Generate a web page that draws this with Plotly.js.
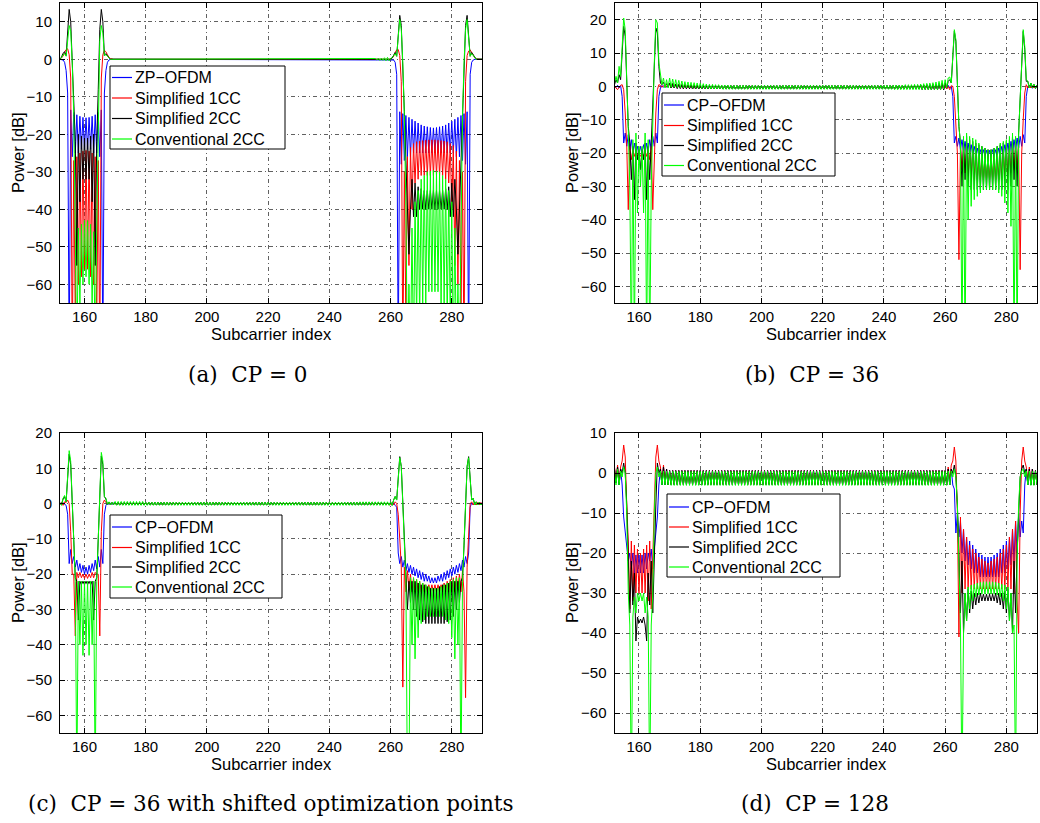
<!DOCTYPE html>
<html>
<head>
<meta charset="utf-8">
<script src="https://cdn.plot.ly/plotly-3.0.1.min.js"></script>
<style>
  html, body { margin: 0; padding: 0; background: #fff; }
  #chart { width: 1040px; height: 823px; }
</style>
</head>
<body>
<div id="chart"></div>
<script>
// Subcarrier grid: 152 ... 290 in half-subcarrier steps (277 samples)
const subcarrier = [];
for (let k = 0; k <= 276; k++) subcarrier.push(152 + k * 0.5);

// ---- flat band between the two notches (170 ... 259.5, 180 samples) ----
const aMid = [
  0,0,0,0,0,0,0,0,0,0,0,0,0,0,0,0,0,0,0,0,
  0,0,0,0,0,0,0,0,0,0,0,0,0,0,0,0,0,0,0,0,
  0,0,0,0,0,0,0,0,0,0,0,0,0,0,0,0,0,0,0,0,
  0,0,0,0,0,0,0,0,0,0,0,0,0,0,0,0,0,0,0,0,
  0,0,0,0,0,0,0,0,0,0,0,0,0,0,0,0,0,0,0,0,
  0,0,0,0,0,0,0,0,0,0,0,0,0,0,0,0,0,0,0,0,
  0,0,0,0,0,0,0,0,0,0,0,0,0,0,0,0,0,0,0,0,
  0,0,0,0,0,0,0,0,0,0,0,0,0,0,0,0,0,0,0,0,
  0,0,0,0,0,0,0,0,0,0,0,0,0,0,0,0,0,0,0,0
];
const aMidGreen = [
  0,0,0,0,0,0,0,0,0,0,0,0,0,0,0,0,0,0,0,0,
  0,0,0,0,0,0,0,0,0,0,0,0,0,0,0,0,0,0,0,0,
  0,0,0,0,0,0,0,0,0,0,0,0,0,0,0,0,0,0,0,0,
  0,0,0,0,0,0,0,0,0,0,0,0,0,0,0,0,0,0,0,0,
  0,0,0,0,0,0,0,0,0,0,0,0,0,0,0,0,0,0,0,0,
  0,0,0,0,0,0,0,0,0,0,0,0,0,0,0,0,0,0,0,0,
  0,0,0,0,0,0,0,0,0,0,0,0,0,0,0,0,0,0,0,0,
  0,0,0,0,0,0,0,0,0,0,0,0,0,0,0,0,0,0,0,0,
  0,0,0,0,0,0,0,0,0,0,0.2,-0.2,0.3,-0.3,0.3,-0.3,0.4,-0.4,0.5,-0.4
];
const bMid = [
  1,-0.5,0.8,-0.5,0.7,-0.6,0.6,-0.6,0.5,-0.7,0.5,-0.7,0.4,-0.7,0.4,-0.8,0.3,-0.8,0.3,-0.8,
  0.2,-0.8,0.2,-0.8,0.2,-0.8,0.2,-0.8,0.2,-0.8,0.2,-0.8,0.2,-0.8,0.2,-0.8,0.2,-0.8,0.2,-0.8,
  0.2,-0.8,0.2,-0.8,0.2,-0.8,0.2,-0.8,0.2,-0.8,0.2,-0.8,0.2,-0.8,0.2,-0.8,0.2,-0.8,0.2,-0.8,
  0.2,-0.8,0.2,-0.8,0.2,-0.8,0.2,-0.8,0.2,-0.8,0.2,-0.8,0.2,-0.8,0.2,-0.8,0.2,-0.8,0.2,-0.8,
  0.2,-0.8,0.2,-0.8,0.2,-0.8,0.2,-0.8,0.2,-0.8,0.2,-0.8,0.2,-0.8,0.2,-0.8,0.2,-0.8,0.2,-0.8,
  0.2,-0.8,0.2,-0.8,0.2,-0.8,0.2,-0.8,0.2,-0.8,0.2,-0.8,0.2,-0.8,0.2,-0.8,0.2,-0.8,0.2,-0.8,
  0.2,-0.8,0.2,-0.8,0.2,-0.8,0.2,-0.8,0.2,-0.8,0.2,-0.8,0.2,-0.8,0.2,-0.8,0.2,-0.8,0.2,-0.8,
  0.2,-0.8,0.2,-0.8,0.2,-0.8,0.2,-0.8,0.2,-0.8,0.2,-0.8,0.2,-0.8,0.2,-0.8,0.2,-0.8,0.2,-0.8,
  0.3,-0.8,0.3,-0.8,0.4,-0.9,0.4,-0.9,0.5,-0.9,0.5,-1,0.6,-1,0.7,-1,0.8,-1,1,-1
];
const bMidGreen = [
  2.5,-0.3,2.2,-0.3,2,-0.4,1.8,-0.4,1.6,-0.5,1.4,-0.5,1.3,-0.5,1.2,-0.6,1.1,-0.6,1,-0.6,
  0.9,-0.7,0.8,-0.7,0.7,-0.7,0.6,-0.8,0.6,-0.8,0.5,-0.8,0.5,-0.8,0.4,-0.9,0.4,-0.9,0.4,-0.9,
  0.3,-0.9,0.3,-0.9,0.3,-0.9,0.3,-0.9,0.3,-0.9,0.3,-0.9,0.3,-0.9,0.3,-0.9,0.3,-0.9,0.3,-0.9,
  0.3,-0.9,0.3,-0.9,0.3,-0.9,0.3,-0.9,0.3,-0.9,0.3,-0.9,0.3,-0.9,0.3,-0.9,0.3,-0.9,0.3,-0.9,
  0.3,-0.9,0.3,-0.9,0.3,-0.9,0.3,-0.9,0.3,-0.9,0.3,-0.9,0.3,-0.9,0.3,-0.9,0.3,-0.9,0.3,-0.9,
  0.3,-0.9,0.3,-0.9,0.3,-0.9,0.3,-0.9,0.3,-0.9,0.3,-0.9,0.3,-0.9,0.3,-0.9,0.3,-0.9,0.3,-0.9,
  0.3,-0.9,0.3,-0.9,0.3,-0.9,0.3,-0.9,0.3,-0.9,0.3,-0.9,0.3,-0.9,0.3,-0.9,0.3,-0.9,0.3,-0.9,
  0.3,-0.9,0.3,-0.9,0.3,-0.9,0.3,-1,0.4,-1,0.4,-1,0.4,-1,0.5,-1,0.5,-1,0.5,-1,
  0.6,-1,0.6,-1,0.7,-1,0.8,-1,0.9,-1,1,-1,1.1,-1,1.3,-1,1.5,-1,1.8,-0.8
];
const cMid = [
  0.3,-0.4,0.3,-0.4,0.3,-0.4,0.3,-0.4,0.3,-0.4,0.3,-0.4,0.3,-0.4,0.3,-0.4,0.3,-0.4,0.3,-0.4,
  0.3,-0.4,0.3,-0.4,0.3,-0.4,0.3,-0.4,0.3,-0.4,0.3,-0.4,0.3,-0.4,0.3,-0.4,0.3,-0.4,0.3,-0.4,
  0.3,-0.4,0.3,-0.4,0.3,-0.4,0.3,-0.4,0.3,-0.4,0.3,-0.4,0.3,-0.4,0.3,-0.4,0.3,-0.4,0.3,-0.4,
  0.3,-0.4,0.3,-0.4,0.3,-0.4,0.3,-0.4,0.3,-0.4,0.3,-0.4,0.3,-0.4,0.3,-0.4,0.3,-0.4,0.3,-0.4,
  0.3,-0.4,0.3,-0.4,0.3,-0.4,0.3,-0.4,0.3,-0.4,0.3,-0.4,0.3,-0.4,0.3,-0.4,0.3,-0.4,0.3,-0.4,
  0.3,-0.4,0.3,-0.4,0.3,-0.4,0.3,-0.4,0.3,-0.4,0.3,-0.4,0.3,-0.4,0.3,-0.4,0.3,-0.4,0.3,-0.4,
  0.3,-0.4,0.3,-0.4,0.3,-0.4,0.3,-0.4,0.3,-0.4,0.3,-0.4,0.3,-0.4,0.3,-0.4,0.3,-0.4,0.3,-0.4,
  0.3,-0.4,0.3,-0.4,0.3,-0.4,0.3,-0.4,0.3,-0.4,0.3,-0.4,0.3,-0.4,0.3,-0.4,0.3,-0.4,0.3,-0.4,
  0.3,-0.4,0.3,-0.4,0.3,-0.4,0.3,-0.4,0.3,-0.4,0.3,-0.4,0.3,-0.4,0.3,-0.4,0.3,-0.4,0.3,-0.4
];
const cMidGreen = [
  0.6,-0.5,0.6,-0.5,0.6,-0.5,0.6,-0.5,0.6,-0.5,0.6,-0.5,0.6,-0.5,0.6,-0.5,0.6,-0.5,0.6,-0.5,
  0.4,-0.5,0.4,-0.5,0.4,-0.5,0.4,-0.5,0.4,-0.5,0.4,-0.5,0.4,-0.5,0.4,-0.5,0.4,-0.5,0.4,-0.5,
  0.4,-0.5,0.4,-0.5,0.4,-0.5,0.4,-0.5,0.4,-0.5,0.4,-0.5,0.4,-0.5,0.4,-0.5,0.4,-0.5,0.4,-0.5,
  0.4,-0.5,0.4,-0.5,0.4,-0.5,0.4,-0.5,0.4,-0.5,0.4,-0.5,0.4,-0.5,0.4,-0.5,0.4,-0.5,0.4,-0.5,
  0.4,-0.5,0.4,-0.5,0.4,-0.5,0.4,-0.5,0.4,-0.5,0.4,-0.5,0.4,-0.5,0.4,-0.5,0.4,-0.5,0.4,-0.5,
  0.4,-0.5,0.4,-0.5,0.4,-0.5,0.4,-0.5,0.4,-0.5,0.4,-0.5,0.4,-0.5,0.4,-0.5,0.4,-0.5,0.4,-0.5,
  0.4,-0.5,0.4,-0.5,0.4,-0.5,0.4,-0.5,0.4,-0.5,0.4,-0.5,0.4,-0.5,0.4,-0.5,0.4,-0.5,0.4,-0.5,
  0.4,-0.5,0.4,-0.5,0.4,-0.5,0.4,-0.5,0.4,-0.5,0.4,-0.5,0.4,-0.5,0.4,-0.5,0.4,-0.5,0.4,-0.5,
  0.5,-0.5,0.5,-0.5,0.5,-0.5,0.5,-0.5,0.5,-0.5,0.5,-0.5,0.5,-0.5,0.5,-0.5,0.5,-0.5,0.5,-0.5
];
const dMid = [
  0.6,-2.9,0.6,-2.9,0.6,-2.9,0.6,-2.9,0.6,-2.9,0.6,-2.9,0.6,-2.9,0.6,-2.9,0.6,-2.9,0.6,-2.9,
  0.6,-2.9,0.6,-2.9,0.6,-2.9,0.6,-2.9,0.6,-2.9,0.6,-2.9,0.6,-2.9,0.6,-2.9,0.6,-2.9,0.6,-2.9,
  0.6,-2.9,0.6,-2.9,0.6,-2.9,0.6,-2.9,0.6,-2.9,0.6,-2.9,0.6,-2.9,0.6,-2.9,0.6,-2.9,0.6,-2.9,
  0.6,-2.9,0.6,-2.9,0.6,-2.9,0.6,-2.9,0.6,-2.9,0.6,-2.9,0.6,-2.9,0.6,-2.9,0.6,-2.9,0.6,-2.9,
  0.6,-2.9,0.6,-2.9,0.6,-2.9,0.6,-2.9,0.6,-2.9,0.6,-2.9,0.6,-2.9,0.6,-2.9,0.6,-2.9,0.6,-2.9,
  0.6,-2.9,0.6,-2.9,0.6,-2.9,0.6,-2.9,0.6,-2.9,0.6,-2.9,0.6,-2.9,0.6,-2.9,0.6,-2.9,0.6,-2.9,
  0.6,-2.9,0.6,-2.9,0.6,-2.9,0.6,-2.9,0.6,-2.9,0.6,-2.9,0.6,-2.9,0.6,-2.9,0.6,-2.9,0.6,-2.9,
  0.6,-2.9,0.6,-2.9,0.6,-2.9,0.6,-2.9,0.6,-2.9,0.6,-2.9,0.6,-2.9,0.6,-2.9,0.6,-2.9,0.6,-2.9,
  0.6,-2.9,0.6,-2.9,0.6,-2.9,0.6,-2.9,0.6,-2.9,0.6,-2.9,0.6,-2.9,0.6,-2.9,0.6,-2.9,0.6,-2.9
];
const dMidGreen = [
  0.4,-3.1,0.4,-3.1,0.4,-3.1,0.4,-3.1,0.4,-3.1,0.4,-3.1,0.4,-3.1,0.4,-3.1,0.4,-3.1,0.4,-3.1,
  0.4,-3.1,0.4,-3.1,0.4,-3.1,0.4,-3.1,0.4,-3.1,0.4,-3.1,0.4,-3.1,0.4,-3.1,0.4,-3.1,0.4,-3.1,
  0.4,-3.1,0.4,-3.1,0.4,-3.1,0.4,-3.1,0.4,-3.1,0.4,-3.1,0.4,-3.1,0.4,-3.1,0.4,-3.1,0.4,-3.1,
  0.4,-3.1,0.4,-3.1,0.4,-3.1,0.4,-3.1,0.4,-3.1,0.4,-3.1,0.4,-3.1,0.4,-3.1,0.4,-3.1,0.4,-3.1,
  0.4,-3.1,0.4,-3.1,0.4,-3.1,0.4,-3.1,0.4,-3.1,0.4,-3.1,0.4,-3.1,0.4,-3.1,0.4,-3.1,0.4,-3.1,
  0.4,-3.1,0.4,-3.1,0.4,-3.1,0.4,-3.1,0.4,-3.1,0.4,-3.1,0.4,-3.1,0.4,-3.1,0.4,-3.1,0.4,-3.1,
  0.4,-3.1,0.4,-3.1,0.4,-3.1,0.4,-3.1,0.4,-3.1,0.4,-3.1,0.4,-3.1,0.4,-3.1,0.4,-3.1,0.4,-3.1,
  0.4,-3.1,0.4,-3.1,0.4,-3.1,0.4,-3.1,0.4,-3.1,0.4,-3.1,0.4,-3.1,0.4,-3.1,0.4,-3.1,0.4,-3.1,
  0.4,-3.1,0.4,-3.1,0.4,-3.1,0.4,-3.1,0.4,-3.1,0.4,-3.1,0.4,-3.1,0.4,-3.1,0.4,-3.1,0.4,-3.1
];

// ---- (a) CP = 0, power in dB ----
const aBlue = [
  0,0,-0.2,-0.8,-3,-9,-80,-13.5,-26,-14.2,
  -25,-14.8,-25,-15.2,-24,-15.5,-24,-15.6,-24,-15.5,
  -24,-15.2,-25,-14.8,-25,-14.2,-26,-13.5,-80,-9,
  -3,-0.8,-0.2,0,0,0,
  ...aMid,
  0,0,-0.2,-0.8,-4,-80,-14,-28,-14.5,-27,
  -15,-26,-15.5,-26,-16,-25,-16.5,-25,-17,-25,
  -17.5,-25,-17.8,-25,-18,-25,-18.2,-25,-18.3,-25,
  -18.2,-25,-18,-25,-17.8,-25,-17.5,-25,-17,-25,
  -16.5,-25,-16,-26,-15.5,-26,-15,-27,-14.5,-28,
  -14,-80,-4,-0.8,-0.2,0,0,0,0,0,
  0
];
const aRed = [
  0,0.3,0.8,1.8,2.6,2.8,1.2,-5,-80,-27,
  -70,-26,-60,-25,-58,-24.5,-56,-24.3,-56,-24.5,
  -58,-25,-60,-26,-70,-27,-80,-5,1.2,2.4,
  2,1.2,0.5,0.2,0,0,
  ...aMid,
  0,0.3,0.8,1.8,2.5,2.6,1,-6,-80,-30,
  -70,-26,-55,-23.5,-40,-22.5,-33,-22,-32,-21.8,
  -31,-21.7,-31,-21.6,-31,-21.5,-31,-21.5,-31,-21.5,
  -31,-21.6,-31,-21.7,-31,-21.8,-32,-22,-33,-22.5,
  -40,-23,-55,-24.5,-60,-27,-70,-30,-80,-6,
  1,2.2,2.5,1.8,1,0.4,0.1,0,0,0,
  0
];
const aBlack = [
  0,0.6,1.6,2,1,8,13.3,10,-1,-12,
  -22,-55,-20,-38,-20.5,-32,-21,-32,-21,-32,
  -20.5,-38,-20,-55,-22,-8,8,13.3,10,1,
  1.5,1,0.3,0,0,0,
  ...aMid,
  0,0.3,1.2,1.8,0.8,7,11.7,9,-1,-14,
  -27,-40,-52,-40,-32,-42,-33,-42,-34,-40,
  -34.5,-40,-35,-40,-35,-40,-35,-40,-35,-40,
  -35,-40,-35,-40,-35,-40,-34.5,-40,-34,-42,
  -33,-42,-32,-40,-52,-40,-27,-14,-1,9,
  11.7,7,0.8,1.8,1.2,0.3,0,0,0,0,
  0
];
const aGreen = [
  0,0.4,1.2,1.5,0.8,5.5,9,7.5,-1,-15,
  -45,-80,-45,-65,-44,-60,-43,-58,-43,-60,
  -44,-65,-46,-80,-45,-12,5,9,7,1,
  1.2,0.8,0.3,0,0,0,
  ...aMidGreen,
  0,0.4,1,1.5,0.8,6,10.6,8,-1,-15,
  -40,-80,-60,-80,-45,-80,-38,-70,-35,-70,
  -32,-65,-31,-65,-30,-62,-29.8,-62,-29.6,-62,
  -29.8,-62,-30,-65,-31,-65,-32,-70,-35,-70,
  -38,-80,-45,-80,-60,-80,-40,-15,-1,8,
  10.6,6,0.8,1.5,1,0.4,0,0,0,0,
  0
];

// ---- (b) CP = 36 ----
const bBlue = [
  0,-0.4,0.3,-0.5,0.2,-3,-17,-14,-18,-14.5,
  -19,-16,-20,-17,-20,-18,-20.5,-18,-20,-17.5,
  -20,-17,-19.5,-16,-19,-15,-18,-14,-17,-3,
  -0.5,0.3,-0.3,0.2,-0.2,0.2,
  ...bMid,
  0.2,-0.8,0.3,-0.5,0,-3,-17,-15,-18,-15.5,
  -19,-16,-19.5,-16.5,-20,-17,-20,-17.5,-20.5,-18,
  -20.5,-18.5,-21,-19,-21,-19,-21,-19.2,-21,-19.2,
  -21,-19,-21,-19,-21,-18.5,-20.5,-18,-20.5,-17.5,
  -20,-17,-20,-16.5,-19.5,-16,-19,-15.5,-18.5,-15,
  -18,-14.5,-17,-3,0,-0.5,0.3,-0.6,0.2,-0.6,
  0.1
];
const bRed = [
  0,-0.5,-1,-0.3,0.3,0.5,-1,-8,-18,-37,
  -18,-22,-19,-21,-19.5,-21,-20,-21,-20,-21,
  -19.5,-21,-19,-22,-18,-37,-18,-8,-1,0.5,
  0.3,-0.3,0.2,-0.2,0.1,-0.1,
  ...bMid,
  0.3,-0.8,0,-1,0.2,0,-3,-12,-20,-52,
  -18,-25,-19,-26,-19.5,-27,-20,-27,-20,-28,
  -20.5,-28,-21,-28,-21,-28,-21,-28,-21,-28,
  -21,-28,-21,-28,-21,-28,-20.5,-28,-20,-27,
  -20,-27,-19.5,-26,-19,-25,-18.5,-25,-18,-55,
  -20,-10,-2,0.5,-0.5,0.3,-0.5,0.2,-0.5,0.1,
  -0.4
];
const bBlack = [
  0.5,2,1,3.5,2,10,18,15,3,-12,
  -17,-28,-18,-34,-17,-22,-19,-25,-19,-22,
  -17,-34,-18,-28,-17,-5,6,17.5,16,6,
  1,0.5,1.2,0,0.8,-0.2,
  ...bMid,
  1,-0.5,1.5,2,1,8,16.5,13.5,2,-12,
  -17,-30,-16,-28,-15,-30,-16,-31,-16.5,-31,
  -17,-31,-17.5,-31,-18,-31,-18.5,-31,-19,-31,
  -19,-31,-18.5,-31,-18,-31,-17.5,-31,-17,-31,
  -16.5,-31,-16,-30,-15,-28,-16,-30,-14,-3,
  9,16.5,11,1.5,1.5,-0.5,1,-0.5,0.6,-0.6,
  0.4
];
const bGreen = [
  1,3,1,6,3,13,20.5,17,4,-13,
  -30,-80,-16,-80,-14,-38,-18,-30,-18,-38,
  -14,-80,-16,-80,-30,-10,7,20,19,7,
  3,0.5,2.5,-0.5,2,-0.5,
  ...bMidGreen,
  2,-0.5,2.5,2.8,1,9,17,14,2,-12,
  -17,-80,-15,-80,-14,-40,-15,-36,-15.5,-34,
  -16,-33,-17,-32,-18,-31,-18.5,-31,-19,-31,
  -19,-31,-18.5,-31,-18,-32,-17,-33,-16.5,-35,
  -16,-38,-15,-42,-14,-80,-15,-80,-14,-3,
  10,17,12,2,1.5,-0.5,1,-0.5,0.6,-0.6,
  0.4
];

// ---- (c) CP = 36, shifted optimization points ----
const cBlue = [
  0,-0.3,0.2,-0.3,-0.5,-3,-17,-13,-17,-15,
  -18,-16,-19,-17,-19.5,-17.5,-20,-18,-20,-17.5,
  -19.5,-17,-19,-16,-18.5,-15,-18,-13,-17,-3,
  -0.5,0.2,-0.3,0.2,-0.3,0.2,
  ...cMid,
  0.3,-0.4,0.2,-0.5,-1,-14,-17,-15,-18,-16,
  -19,-17,-19.5,-17.5,-20,-18,-20.5,-18.5,-21,-19,
  -21.5,-19.5,-22,-20,-22,-20.5,-22.5,-21,-22.5,-21,
  -22.5,-20.5,-22,-20,-22,-19.5,-21.5,-19,-21,-18.5,
  -20.5,-18,-20,-17.5,-19.5,-17,-19,-16,-18,-15,
  -17,-14,-1,0.2,-0.4,0.3,-0.4,0.2,-0.3,0.2,
  -0.3
];
const cRed = [
  -0.3,0.3,-0.5,0.5,0.3,1,0,-8,-20,-20,
  -37.5,-19.5,-21,-19.5,-21,-20,-21.2,-20,-21.2,-20,
  -21,-19.5,-21,-19.5,-20,-20,-37.5,-8,0,1,
  0.3,-0.3,0.4,-0.4,0.3,-0.3,
  ...cMid,
  -0.3,0.3,-0.4,0.5,0,-3,-10,-18,-52,-18,
  -25,-19,-24,-20,-25,-21,-25,-21.5,-25,-22,
  -25,-22.5,-25,-23,-25,-23,-25,-23,-25,-23,
  -25,-23,-25,-23,-25,-22.5,-25,-22,-25,-21.5,
  -25,-21,-25,-20.5,-24,-20,-25,-19,-25,-55,
  -18,-8,0,0.5,-0.4,0.4,-0.4,0.3,-0.3,0.3,
  -0.3
];
const cBlack = [
  0.3,-0.3,1.3,2,0.5,7.5,14,11,1,-13,
  -21,-22,-33,-22,-23,-22,-23,-22,-23,-22,
  -23,-22,-33,-22,-21,-10,5.5,13.5,11,2,
  1.3,-0.3,0.4,-0.3,0.3,-0.3,
  ...cMid,
  0.3,-0.5,1,2,1,7,13.3,10.5,1,-12,
  -21,-30,-22,-28,-22,-30,-22,-32,-22.5,-33,
  -23,-33.5,-23,-34,-23.5,-34,-24,-34,-24,-34,
  -24,-34,-23.5,-34,-23,-34,-23,-33.5,-22.5,-33,
  -22,-32,-22,-30,-22,-28,-22,-21,-12,1,
  10.5,13.3,7,1,1.5,-0.4,0.5,-0.4,0.4,-0.4,
  0.3
];
const cGreen = [
  0.2,-0.5,1.5,2.3,0.5,8,15,12,1,-13,
  -22,-80,-22,-40,-22,-43,-22,-40,-22,-43,
  -22,-40,-22,-80,-22,-10,6,14.5,12,2,
  1.5,-0.3,0.5,-0.4,0.4,-0.4,
  ...cMidGreen,
  0.5,-0.5,1,2,1,7,13,10.5,1,-12,
  -22,-80,-80,-21,-40,-21,-44,-21.5,-38,-22,
  -34,-22.5,-33,-23,-32,-23.5,-32,-24,-32,-24,
  -32,-24,-32,-23.5,-32,-23,-33,-22.5,-34,-22,
  -38,-21.5,-44,-21,-40,-21,-80,-22,-12,1,
  10.5,13,7,1,1.5,-0.4,0.5,-0.4,0.4,-0.4,
  0.3
];

// ---- (d) CP = 128 ----
const dBlue = [
  1,-2.5,1.5,-3,1,-3,-11,-15,-19,-22,
  -20,-24,-20,-25,-20.5,-25,-20.5,-25,-20.5,-25,
  -20,-24,-20,-22,-19,-24,-19,-15,-11,-3,
  1,-3,1.5,-3,1,-3,
  ...dMid,
  0.6,-3,1,-3,1,-3,-4,-15,-10,-16,
  -12,-20,-14,-22,-16,-23,-17,-24,-18,-25,
  -19,-25,-20,-26,-20.5,-26,-21,-26,-21,-26,
  -21,-26,-20.5,-26,-20,-26,-19,-25,-18,-25,
  -17,-24,-16,-23,-14,-22,-12,-20,-10,-16,
  -12,-15,-3,1,-3,1,-3,1,-3,0.6,
  -3
];
const dRed = [
  1.5,-2,2,-2.5,1.5,3,7,4,-8,-17,
  -34,-17,-32,-18,-30,-19,-30,-20,-30,-19,
  -30,-18,-32,-17,-34,-17,-8,4,7,3,
  1.5,-2.5,2,-2.5,1,-3,
  ...dMid,
  0.6,-3,1.5,-2,2,3,6.5,3,-10,-41,
  -11,-30,-14,-29,-16,-29,-18,-29,-19,-29,
  -20,-29,-21,-29,-21.5,-29,-22,-29,-22.5,-29,
  -22,-29,-21.5,-29,-21,-29,-20,-29,-19,-29,
  -18,-29,-16,-29,-14,-30,-12,-32,-40,-10,
  3,6.5,3,1.5,-2,1.5,-2.5,1,-3,0.6,
  -3
];
const dBlack = [
  1,-2.5,1.5,-3,1,0,2.5,0,-8,-20,
  -35,-22,-33,-25,-42,-36,-37.5,-36.5,-37.5,-36,
  -38,-42,-25,-33,-22,-35,-20,-8,2.5,0,
  1,-3,1.5,-3,1,-3,
  ...dMid,
  0.6,-3,1,-3,1,0,2,-1,-8,-20,
  -35,-22,-40,-30,-37,-29,-35,-29.5,-34,-30,
  -33,-30,-32.5,-30,-32,-30.3,-32,-30.3,-32,-30.3,
  -32,-30.3,-32,-30,-32.5,-30,-33,-30,-34,-29.5,
  -35,-29,-37,-30,-40,-22,-35,-20,-8,-1,
  1,2,0,1,-3,1,-3,1,-3,0.6,
  -3
];
const dGreen = [
  0.5,-3,1,-3,0.5,-1,1.5,0,-10,-30,
  -38,-80,-36,-31,-35,-30,-32,-30,-32,-30,
  -35,-31,-36,-80,-38,-30,-10,0,1.5,-1,
  0.5,-3,0.5,-3,0.5,-3,
  ...dMidGreen,
  0.4,-3.1,0.5,-3,0.5,-1,1,-1,-8,-22,
  -38,-80,-40,-30,-37,-28.5,-34,-28,-32,-27.8,
  -31,-27.5,-30.5,-27.3,-30.3,-27.2,-30.3,-27.2,-30.3,-27.2,
  -30.3,-27.2,-30.3,-27.3,-30.5,-27.5,-31,-27.8,-32,-28,
  -34,-28.5,-37,-30,-40,-38,-80,-22,-8,-1,
  0.5,1,-1,0.5,-3,0.5,-3.1,0.4,-3.1,0.4,
  -3
];

// legend labels, tick values, captions
const namesZP = ['ZP\u2212OFDM', 'Simplified 1CC', 'Simplified 2CC', 'Conventional 2CC'];
const namesCP = ['CP\u2212OFDM', 'Simplified 1CC', 'Simplified 2CC', 'Conventional 2CC'];
const xTicks = [160, 180, 200, 220, 240, 260, 280];
const captions = ['(a)\u00a0\u00a0CP = 0', '(b)\u00a0\u00a0CP = 36',
                  '(c)\u00a0\u00a0CP = 36 with shifted optimization points', '(d)\u00a0\u00a0CP = 128'];

const lineColors = ['#0000ff', '#ff0000', '#000000', '#00ff00'];
const W = 1040, H = 823;
const SANS = 'Liberation Sans, Arial, Helvetica, sans-serif';
const SERIF = 'DejaVu Serif, Liberation Serif, serif';
const px = v => v / W;          // horizontal pixel -> paper
const py = v => 1 - v / H;      // vertical pixel -> paper

// subplot boxes (pixels) and the legend box drawn inside each one
const panels = [
  { xa: 'x',  ya: 'y',  names: namesZP, series: [aBlue, aRed, aBlack, aGreen],
    legendBox: { x0: 110, x1: 285, y0: 66, y1: 149, rows: [77.5, 98, 118.5, 139] } },
  { xa: 'x2', ya: 'y2', names: namesCP, series: [bBlue, bRed, bBlack, bGreen],
    legendBox: { x0: 662, x1: 835, y0: 93, y1: 176, rows: [105, 125.5, 145.5, 165.5] } },
  { xa: 'x3', ya: 'y3', names: namesCP, series: [cBlue, cRed, cBlack, cGreen],
    legendBox: { x0: 110, x1: 282, y0: 515, y1: 598, rows: [527, 547.5, 567, 587] } },
  { xa: 'x4', ya: 'y4', names: namesCP, series: [dBlue, dRed, dBlack, dGreen],
    legendBox: { x0: 667, x1: 840, y0: 494, y1: 577, rows: [507, 527, 547, 567] } }
];

const traces = [];
const shapes = [];
const ann = [];
const badLengths = [];

panels.forEach((p, pi) => {
  p.series.forEach((ys, si) => {
    if (ys.length !== subcarrier.length) badLengths.push('panel ' + pi + ' series ' + si + ': ' + ys.length);
    traces.push({
      type: 'scatter', mode: 'lines',
      x: subcarrier, y: ys,
      xaxis: p.xa, yaxis: p.ya,
      name: p.names[si], showlegend: false,
      line: { color: lineColors[si], width: 1 },
      hoverinfo: 'skip'
    });
  });
  // boxed legend with short line samples
  const b = p.legendBox;
  shapes.push({ type: 'rect', xref: 'paper', yref: 'paper', layer: 'above',
                x0: px(b.x0), x1: px(b.x1), y0: py(b.y1), y1: py(b.y0),
                fillcolor: '#fff', line: { color: '#000', width: 1 } });
  b.rows.forEach((ry, si) => {
    shapes.push({ type: 'line', xref: 'paper', yref: 'paper', layer: 'above',
                  x0: px(b.x0 + 2), x1: px(b.x0 + 22), y0: py(ry), y1: py(ry),
                  line: { color: lineColors[si], width: 1.2 } });
    ann.push({ text: p.names[si], x: px(b.x0 + 23), y: py(ry), xref: 'paper', yref: 'paper',
               xanchor: 'left', yanchor: 'middle', showarrow: false,
               font: { family: SANS, size: 16, color: '#000' } });
  });
});

const colL = [px(60), px(482.4)], colR = [px(614.5), px(1037)];
const rowT = [py(303), py(3)], rowB = [py(733), py(433)];

function xAxis(domain, anchor) {
  return {
    domain, anchor, range: [152, 290], tickvals: xTicks,
    showline: true, linecolor: '#000', linewidth: 1, mirror: 'ticks',
    ticks: 'inside', ticklen: 5, tickcolor: '#000',
    showgrid: true, gridcolor: '#3a3a3a', gridwidth: 0.8, griddash: '4px,3px,1px,3px',
    zeroline: false, tickfont: { family: SANS, size: 15, color: '#000' }
  };
}
function yAxis(domain, anchor, range) {
  return {
    domain, anchor, range, tick0: 0, dtick: 10,
    showline: true, linecolor: '#000', linewidth: 1, mirror: 'ticks',
    ticks: 'inside', ticklen: 5, tickcolor: '#000', ticklabelstandoff: 4,
    showgrid: true, gridcolor: '#3a3a3a', gridwidth: 0.8, griddash: '4px,3px,1px,3px',
    zeroline: false, tickfont: { family: SANS, size: 15, color: '#000' }
  };
}

function label(text, xpx, ypx, size, family, angle) {
  ann.push({ text, x: px(xpx), y: py(ypx), xref: 'paper', yref: 'paper',
             xanchor: 'center', yanchor: 'middle', showarrow: false, textangle: angle || 0,
             font: { family, size, color: '#000' } });
}
// axis titles
label('Subcarrier index', 271, 334, 16.5, SANS);
label('Subcarrier index', 826, 334, 16.5, SANS);
label('Subcarrier index', 271, 764, 16.5, SANS);
label('Subcarrier index', 826, 764, 16.5, SANS);
label('Power [dB]', 18, 153, 16.5, SANS, -90);
label('Power [dB]', 572, 153, 16.5, SANS, -90);
label('Power [dB]', 18, 583, 16.5, SANS, -90);
label('Power [dB]', 572, 583, 16.5, SANS, -90);
// sub-figure captions
label(captions[0], 248, 375, 21.5, SERIF);
label(captions[1], 812, 375, 21.5, SERIF);
label(captions[2], 270, 803, 21.5, SERIF);
label(captions[3], 815, 803, 21.5, SERIF);

const layout = {
  width: W, height: H,
  margin: { l: 0, r: 0, t: 0, b: 0 },
  paper_bgcolor: '#fff', plot_bgcolor: '#fff',
  font: { family: SANS, color: '#000' },
  hovermode: false, showlegend: false,
  xaxis:  xAxis(colL, 'y'),  yaxis:  yAxis(rowT, 'x',  [-65, 15]),
  xaxis2: xAxis(colR, 'y2'), yaxis2: yAxis(rowT, 'x2', [-65, 25]),
  xaxis3: xAxis(colL, 'y3'), yaxis3: yAxis(rowB, 'x3', [-65, 20]),
  xaxis4: xAxis(colR, 'y4'), yaxis4: yAxis(rowB, 'x4', [-65, 10]),
  shapes, annotations: ann
};

Plotly.newPlot('chart', traces, layout, { staticPlot: true, displayModeBar: false }).then(() => {
  if (badLengths.length) throw new Error('series length mismatch: ' + badLengths.join('; '));
});
</script>
</body>
</html>
